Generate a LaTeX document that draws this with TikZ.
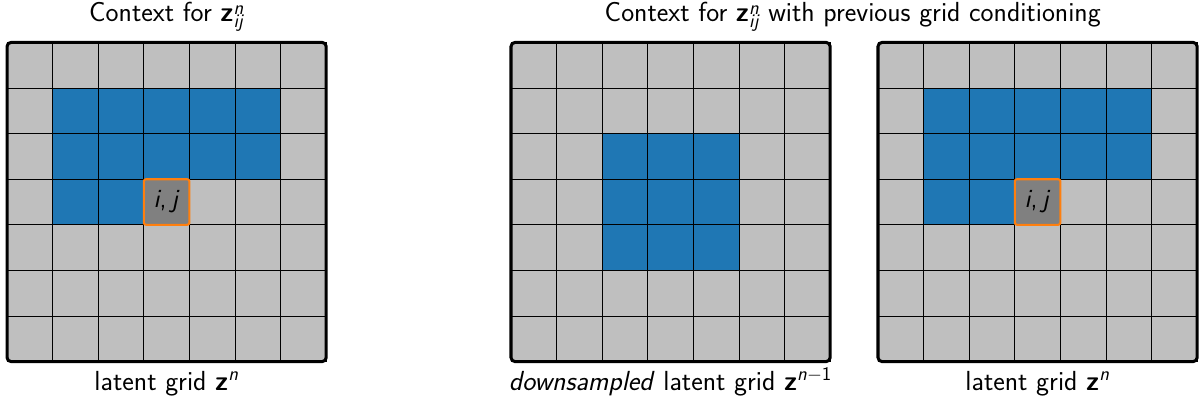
\documentclass[tikz,border=0pt]{standalone}
\usepackage{amsmath}
\renewcommand{\familydefault}{\sfdefault}
\definecolor{cellgray}{RGB}{191,191,191}
\definecolor{tabblue}{RGB}{31,119,180}
\definecolor{taborange}{RGB}{255,127,14}
\definecolor{ijgray}{RGB}{128,128,128}
\tikzset{
  gridline/.style={black, line width=0.6pt},
  gridborder/.style={black, line width=1.9pt, rounded corners=0.09cm},
  ijcell/.style={fill=ijgray, draw=taborange, line width=1.3pt, rounded corners=0.05cm,
    minimum size=1cm, inner sep=0pt, font=\fontsize{16.5}{19}\selectfont},
  lbl/.style={inner sep=0pt, font=\fontsize{17.2}{20}\selectfont},
}
\newcommand{\zvec}{\textbf{z}}
\newcommand{\ijtext}{\textit{i},\kern0.18em\textit{j}}
\newcommand{\zij}{\zvec\makebox[0pt][l]{\raisebox{0.62ex}{\fontsize{12}{12}\selectfont\textit{n}}}\raisebox{-0.55ex}{\fontsize{12}{12}\selectfont\textit{ij}}}
\begin{document}
\begin{tikzpicture}[x=1cm,y=-1cm]
\useasboundingbox (0,0) rectangle (26.294,8.86);
% grid 1
\begin{scope}[shift={(0.154,0.93)}]
  \fill[cellgray, rounded corners=0.09cm] (0,0) rectangle (7,7);
  \foreach \c/\r in {1/1,2/1,3/1,4/1,5/1,1/2,2/2,3/2,4/2,5/2,1/3,2/3}
    \fill[tabblue] (\c,\r) rectangle ++(1,1);
  \draw[gridline] (0,0) grid (7,7);
  \draw[gridborder] (0,0) rectangle (7,7);
  \node[ijcell] (ij1) at (3.5,3.5) {\ijtext};
\end{scope}
% grid 2
\begin{scope}[shift={(11.206,0.93)}]
  \fill[cellgray, rounded corners=0.09cm] (0,0) rectangle (7,7);
  \foreach \c/\r in {2/2,3/2,4/2,2/3,3/3,4/3,2/4,3/4,4/4}
    \fill[tabblue] (\c,\r) rectangle ++(1,1);
  \draw[gridline] (0,0) grid (7,7);
  \draw[gridborder] (0,0) rectangle (7,7);
\end{scope}
% grid 3
\begin{scope}[shift={(19.254,0.93)}]
  \fill[cellgray, rounded corners=0.09cm] (0,0) rectangle (7,7);
  \foreach \c/\r in {1/1,2/1,3/1,4/1,5/1,1/2,2/2,3/2,4/2,5/2,1/3,2/3}
    \fill[tabblue] (\c,\r) rectangle ++(1,1);
  \draw[gridline] (0,0) grid (7,7);
  \draw[gridborder] (0,0) rectangle (7,7);
  \node[ijcell] (ij3) at (3.5,3.5) {\ijtext};
\end{scope}
% titles
\node[lbl, anchor=base] (t1) at (3.654,0.47) {Context for \zij};
\node[lbl, anchor=base] (t2) at (18.70,0.47) {Context for \zij{} with previous grid conditioning};
% bottom labels
\node[lbl, anchor=base] (l1) at (3.654,8.57) {latent grid $\zvec^{\textit{n}}$};
\node[lbl, anchor=base] (l2) at (14.706,8.57) {\textit{downsampled} latent grid $\zvec^{\text{\textit{n}$-$1}}$};
\node[lbl, anchor=base] (l3) at (22.754,8.57) {latent grid $\zvec^{\textit{n}}$};
\end{tikzpicture}
\end{document}
